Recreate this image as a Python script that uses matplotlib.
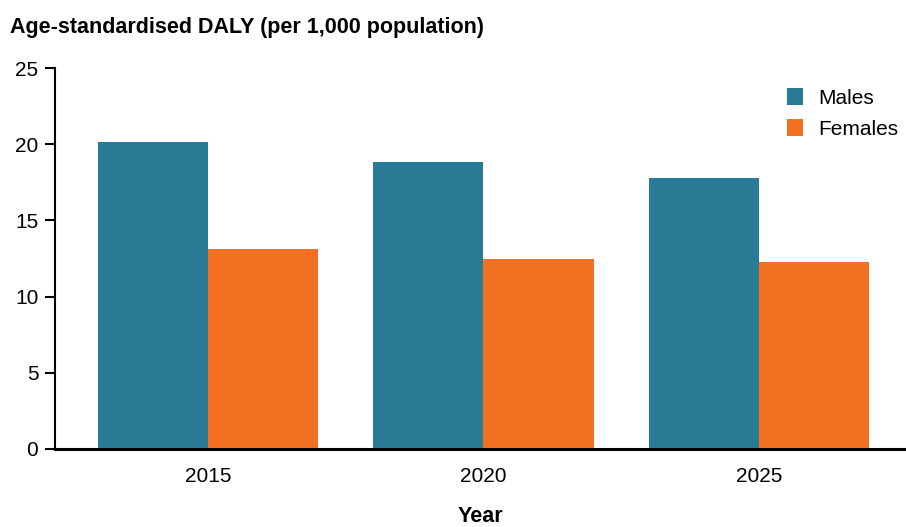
import matplotlib
matplotlib.use('Agg')
import matplotlib.pyplot as plt
import numpy as np

# --- data ---
years   = ['2015', '2020', '2025']
males   = [20.15, 18.8, 17.75]
females = [13.1, 12.45, 12.3]

TEAL   = '#2A7C96'
ORANGE = '#F37022'

plt.rcParams['font.family'] = ['Liberation Sans', 'DejaVu Sans']

fig = plt.figure(figsize=(9.06, 5.27), dpi=100)
ax = fig.add_axes([55/906, 1 - 449/527, 1 - 55/906, (449 - 68)/527])

x = np.arange(len(years))
w = 0.4
ax.bar(x - w/2, males, w, color=TEAL, label='Males')
ax.bar(x + w/2, females, w, color=ORANGE, label='Females')

ax.set_xlim(-0.555, 2.534)
ax.set_ylim(0, 25)
ax.set_yticks([0, 5, 10, 15, 20, 25])
ax.set_xticks(x)
ax.set_xticklabels(years)

ax.spines['top'].set_visible(False)
ax.spines['right'].set_visible(False)
ax.spines['left'].set_linewidth(1.5)
ax.spines['bottom'].set_linewidth(2.2)
ax.tick_params(axis='y', length=7, width=1.5, labelsize=15, pad=5)
ax.tick_params(axis='x', length=0, labelsize=15, pad=13)

# x label placed in figure coords so it sits just above the bottom edge
fig.text((55 + 906) / 2 / 906, 1 - 517/527, 'Year',
         fontsize=15.5, fontweight='bold', ha='center', va='center')
fig.text(10/906, 1 - 27/527, 'Age-standardised DALY (per 1,000 population)',
         fontsize=15.5, fontweight='bold', va='center', ha='left')

ax.legend(loc='upper right', bbox_to_anchor=(1.006, 0.98), frameon=False,
          fontsize=15, handlelength=0.75, handleheight=0.85, labelspacing=0.55,
          handletextpad=0.75, borderaxespad=0.2)

fig.savefig('out.png', dpi=100)
